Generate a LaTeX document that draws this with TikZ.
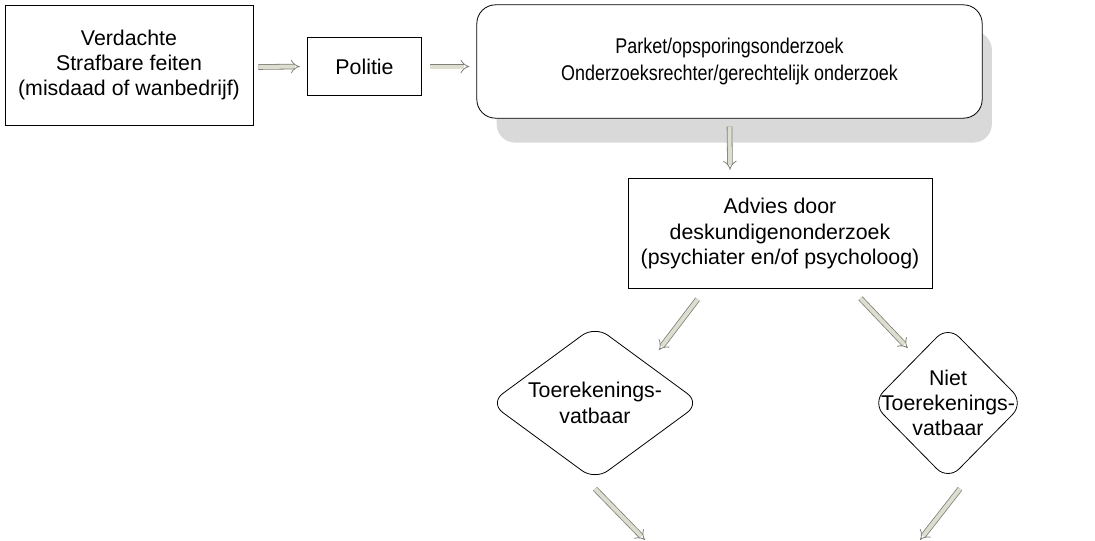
\documentclass[tikz,border=0pt]{standalone}
\usepackage{fontspec}
\setmainfont{Liberation Sans}
\newfontfamily\smallerfont[FakeStretch=0.84]{Liberation Sans}
\usetikzlibrary{arrows.meta,shapes.geometric,shadows,calc}
\definecolor{arrowline}{RGB}{128,128,120}
\definecolor{arrowfill}{RGB}{222,222,208}
\definecolor{shadowgray}{RGB}{217,217,217}
\tikzset{
  txt/.style={font=\fontsize{16}{19}\selectfont, align=center},
  box/.style={txt, draw, line width=0.6pt, inner sep=0pt},
  ruit/.style={txt, draw, diamond, rounded corners=12pt, line width=0.6pt, inner sep=-25pt},
  blockarrow/.style={draw=arrowline, double=arrowfill, double distance=3pt, line width=0.6pt, -{Implies}},
}

\begin{document}
\begin{tikzpicture}[x=0.75pt,y=-0.75pt]
		% border
		\useasboundingbox (0,0) rectangle (1095,540);
		% top row
		\node[box, minimum width=186pt, minimum height=90pt] (verdachte) at (129,65) {Verdachte\\Strafbare feiten\\(misdaad of wanbedrijf)};
		\node[box, minimum width=86pt, minimum height=43pt] (politie) at (364.5,66.5) {Politie};
		\node[box, font=\smallerfont\fontsize{16}{20}\selectfont, rounded corners=14pt, fill=white,
		      minimum width=379pt, minimum height=85pt,
		      drop shadow={shadow xshift=11.25pt, shadow yshift=-19.5pt, shadow scale=0.98, fill=shadowgray, opacity=1}] (parket) at (729.5,61.5)
		      {Parket/opsporingsonderzoek\\Onderzoeksrechter/gerechtelijk onderzoek};
		% advice
		\node[box, minimum width=228pt, minimum height=83pt] (advies) at (780,233.5) {Advies door\\deskundigenonderzoek\\(psychiater en/of psycholoog)};
		% decisions
		\node[ruit, minimum width=158pt, minimum height=116pt] (toer) at (595,403) {Toerekenings-\\vatbaar};
		\node[ruit, minimum width=114pt, minimum height=116pt] (niet) at (948,403) {Niet\\Toerekenings-\\vatbaar};
		% loose ends at the bottom
		\coordinate (toerend) at (645,540);
		\coordinate (nietend) at (920,540);
		% arrows
		\draw[blockarrow] ($(verdachte.east)+(5,2)$) -- ($(politie.west)+(-7,0)$);
		\draw[blockarrow] ($(politie.east)+(8,0)$) -- ($(parket.west)+(-7,5)$);
		\draw[blockarrow] ($(parket.south)+(0,8)$) -- ($(advies.north)+(-50,-8)$);
		\draw[blockarrow] ($(advies.south west)+(70,10)$) -- ($(toer.north east)+(11,-14)$);
		\draw[blockarrow] ($(advies.south east)+(-72,9)$) -- ($(niet.north west)+(-2,-16)$);
		\draw[blockarrow] ($(toer.south)+(0,8)$) -- (toerend);
		\draw[blockarrow] ($(niet.south)+(12,8)$) -- (nietend);
	\end{tikzpicture}
\end{document}
